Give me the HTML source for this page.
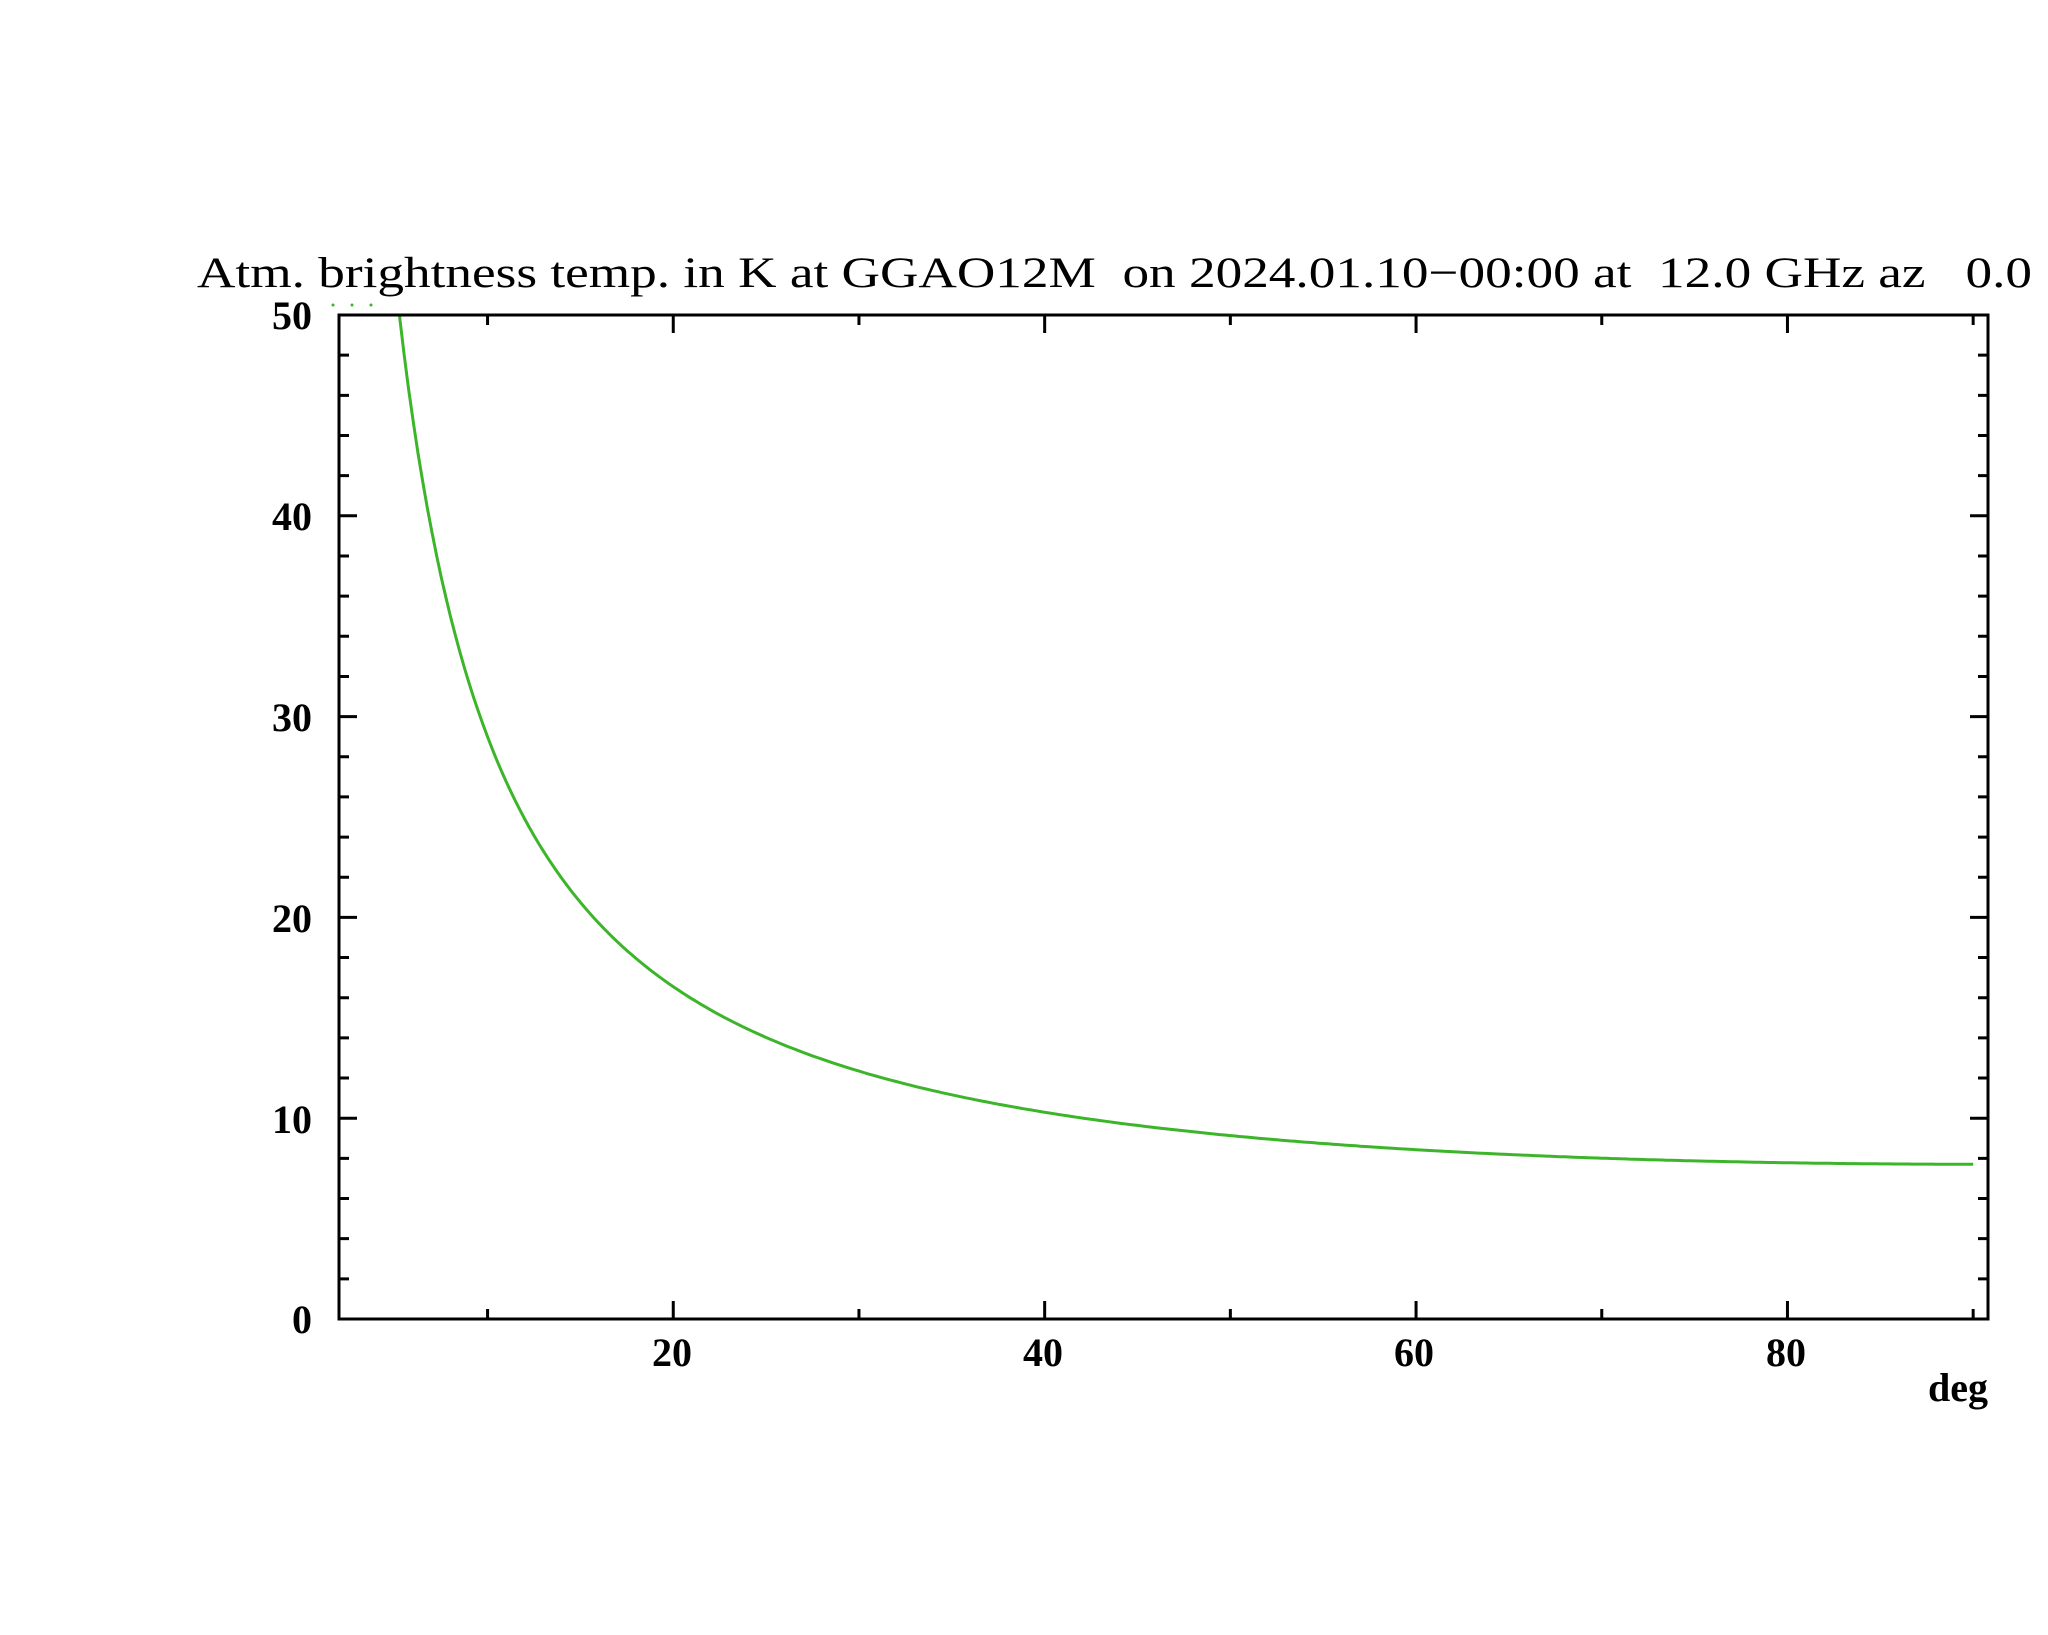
<!DOCTYPE html>
<html><head><meta charset="utf-8"><style>html,body{margin:0;padding:0;background:#fff}svg{display:block}text{white-space:pre}</style></head>
<body>
<svg id="s" width="2048" height="1635" viewBox="0 0 2048 1635" xmlns="http://www.w3.org/2000/svg" xml:space="preserve" font-family="'Liberation Serif', serif">
<text x="197" y="287" font-size="43" textLength="1835" lengthAdjust="spacingAndGlyphs" style="white-space:pre">Atm. brightness temp. in K at GGAO12M  on 2024.01.10−00:00 at  12.0 GHz az   0.0</text>
<g font-size="40" font-weight="bold" text-anchor="end">
<text x="312" y="329">50</text><text x="312" y="530">40</text><text x="312" y="731">30</text>
<text x="312" y="932">20</text><text x="312" y="1133">10</text><text x="312" y="1333">0</text>
</g>
<g font-size="40" font-weight="bold" text-anchor="middle">
<text x="672" y="1366">20</text><text x="1043" y="1366">40</text><text x="1414" y="1366">60</text><text x="1786" y="1366">80</text>
</g>
<text x="1988" y="1401" font-size="40" font-weight="bold" text-anchor="end">deg</text>
<g fill="#3cb52a"><circle cx="333" cy="305" r="1.5"/><circle cx="352" cy="305" r="1.5"/><circle cx="371" cy="305" r="1.5"/></g>
<defs><clipPath id="c"><rect x="339" y="315" width="1649" height="1004"/></clipPath></defs>
<path id="curve" d="" fill="none" stroke="#3cb52a" stroke-width="3" clip-path="url(#c)"/>
<g id="ax" stroke="#000" stroke-width="3" fill="none">
<rect x="339" y="315" width="1649" height="1004"/>
</g>
</svg>
<script>
var X=function(d){return 339+(d-2)*18.57;},Y=function(v){return 1319-v*20.08;};
var p="";for(var d=4.5;d<=90.001;d+=0.25){var x=3.0+4.83/Math.sin(d*Math.PI/180);var v=250*(1-Math.exp(-x/250));p+=(p?"L":"M")+X(d).toFixed(1)+" "+Y(v).toFixed(1);}
document.getElementById("curve").setAttribute("d",p);
var g=document.getElementById("ax"),t="";
for(var v=0;v<=50;v+=2){var y=Y(v),L=(v%10==0)?18:10;t+="M339 "+y+"h"+L+"M1988 "+y+"h-"+L;}
for(var d=10;d<=90;d+=10){var x=X(d),L=(d%20==0)?18:10;t+="M"+x+" 1319v-"+L+"M"+x+" 315v"+L;}
var pa=document.createElementNS("http://www.w3.org/2000/svg","path");pa.setAttribute("d",t);g.appendChild(pa);
</script>
</body></html>
